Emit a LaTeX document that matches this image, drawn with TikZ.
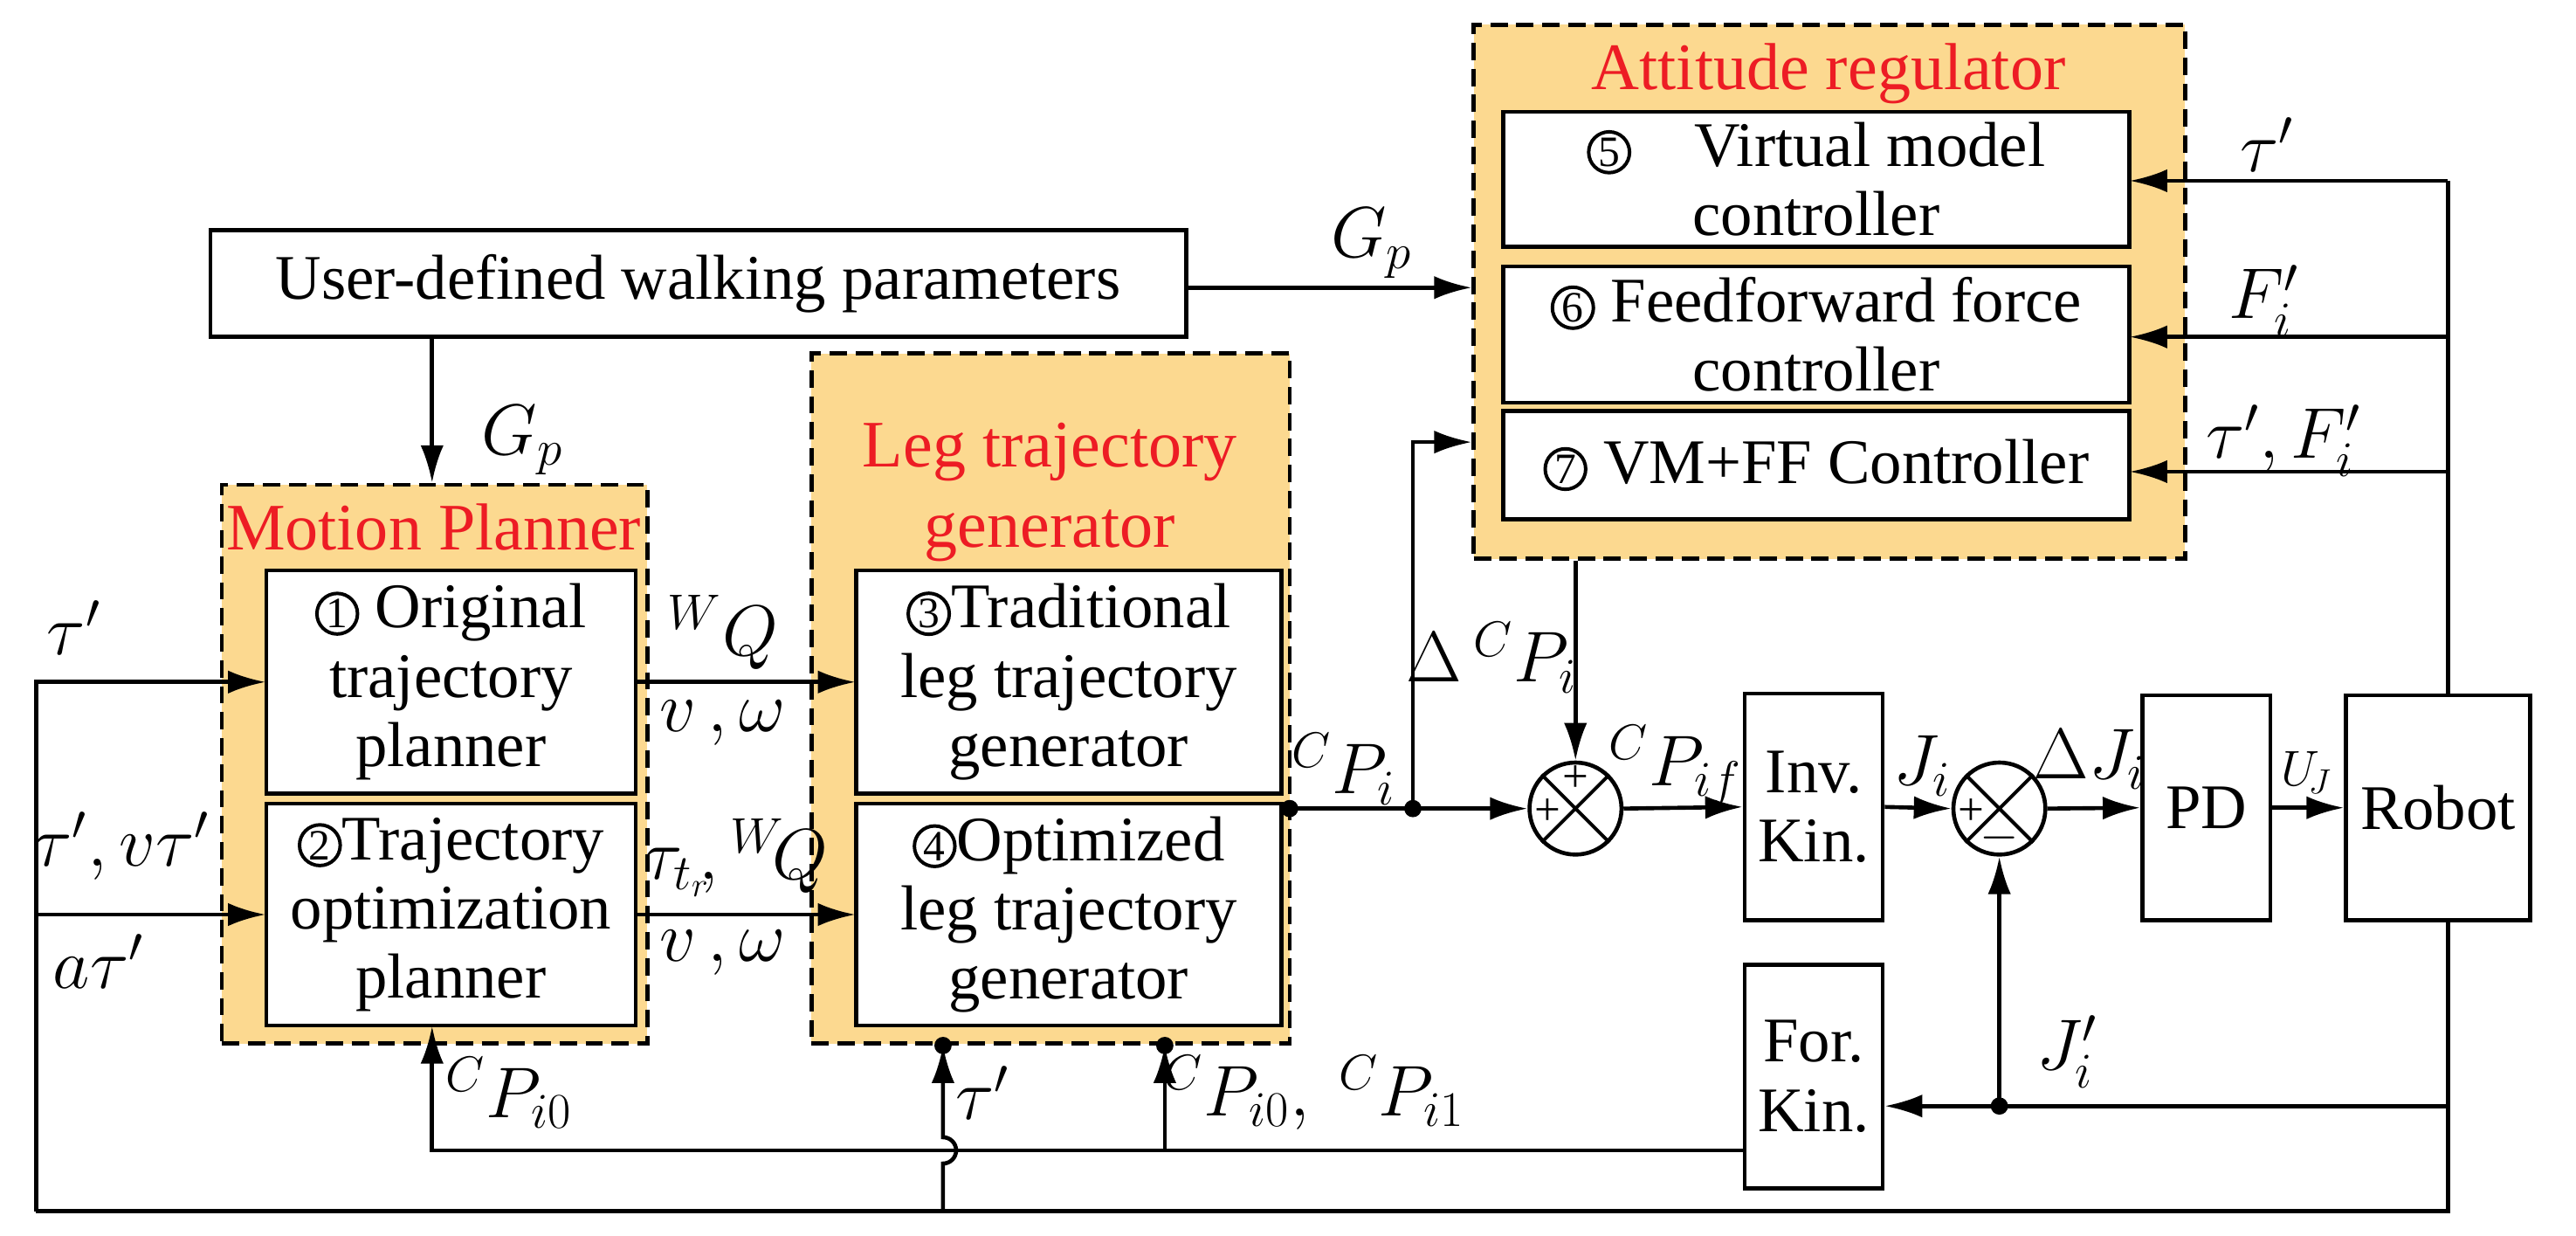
\documentclass[tikz,border=0pt]{standalone}
\usepackage{fontspec}
\setmainfont{Liberation Serif}
\setsansfont{Liberation Serif}
\usetikzlibrary{arrows.meta}
\definecolor{org}{RGB}{252,217,144}
\definecolor{ttl}{RGB}{237,28,36}
\newcommand\cnum[1]{\tikz[baseline=(c.base)]\node[circle,draw,solid,fill=none,minimum width=0pt,minimum height=0pt,minimum size=0pt,line width=1.2pt,inner sep=0.6pt,font=\rmfamily\fontsize{15}{15}\selectfont](c){#1};}
\begin{document}
\rmfamily
\begin{tikzpicture}[x=0.02cm,y=-0.02cm,line width=1.4pt,
 >={Latex[length=13pt,width=8pt]},
 every node/.style={font=\rmfamily\fontsize{22}{24}\selectfont},
 grp/.style={draw,dash pattern=on 6pt off 3pt,fill=org,line width=1.4pt},
 box/.style={draw,fill=white,align=center,inner sep=0pt},
 lab/.style={font=\fontsize{24}{26}\selectfont},
 ttl/.style={text=ttl,font=\rmfamily\fontsize{23}{25}\selectfont,align=center},
 dot/.style={circle,fill,inner sep=0pt,minimum size=6pt}]
\useasboundingbox (0,0) rectangle (1568,752);
% groups
\node[grp,minimum width=5.18cm,minimum height=6.8cm] (mp) at (264.5,465) {};
\node[grp,minimum width=5.82cm,minimum height=8.4cm] (lg) at (639.5,425) {};
\node[grp,minimum width=8.66cm,minimum height=6.5cm] (ar) at (1113.5,177.5) {};
\node[ttl] at (264,321) {Motion Planner};
\node[ttl] at (639,275) {Leg trajectory};
\node[ttl] at (639,326) {generator};
\node[ttl] at (1113,45) {Attitude regulator};
% boxes
\node[box,minimum width=11.88cm,minimum height=1.3cm] (ud) at (425,172.5) {User-defined walking parameters};
\node[box,minimum width=4.5cm,minimum height=2.72cm] (b1) at (274.5,415) {\cnum{1} Original\\trajectory\\planner};
\node[box,minimum width=4.5cm,minimum height=2.7cm] (b2) at (274.5,556.5) {\cnum{2}Trajectory\\optimization\\planner};
\node[box,minimum width=5.18cm,minimum height=2.72cm] (b3) at (650.5,415) {\cnum{3}Traditional\\leg trajectory\\generator};
\node[box,minimum width=5.18cm,minimum height=2.7cm] (b4) at (650.5,556.5) {\cnum{4}Optimized\\leg trajectory\\generator};
\node[box,minimum width=7.62cm,minimum height=1.64cm] (b5) at (1105.5,109) {\cnum{5}\quad Virtual model\\controller};
\node[box,minimum width=7.62cm,minimum height=1.66cm] (b6) at (1105.5,203.5) {\cnum{6} Feedforward force\\controller};
\node[box,minimum width=7.62cm,minimum height=1.32cm] (b7) at (1105.5,283) {\cnum{7} VM+FF Controller};
\node[box,minimum width=1.68cm,minimum height=2.76cm] (inv) at (1104,491) {Inv.\\Kin.};
\node[box,minimum width=1.68cm,minimum height=2.72cm] (fk) at (1104,655) {For.\\Kin.};
\node[box,minimum width=1.56cm,minimum height=2.74cm] (pd) at (1343,491.5) {PD};
\node[box,minimum width=2.24cm,minimum height=2.74cm] (rb) at (1484,491.5) {Robot};
\node[draw,circle,minimum size=1.12cm,inner sep=0pt] (s1) at (959,492) {};
\node[draw,circle,minimum size=1.12cm,inner sep=0pt] (s2) at (1217,492) {};
\draw[line width=1.2pt] (s1.north west)--(s1.south east) (s1.north east)--(s1.south west);
\draw[line width=1.2pt] (s2.north west)--(s2.south east) (s2.north east)--(s2.south west);
\node[font=\fontsize{16}{16}\selectfont] at (959,474) {+};
\node[font=\fontsize{16}{16}\selectfont] at (942,494) {+};
\node[font=\fontsize{16}{16}\selectfont] at (1200,494) {+};
\node[font=\fontsize{16}{16}\selectfont] at (1217,510) {$-$};
% coordinates
\coordinate (lo) at (785,492);
\coordinate (br) at (860,492);
\coordinate (rv) at (1490,110);
\coordinate (bl) at (22,737);
\coordinate (br2) at (1490,737);
\coordinate (jp) at (1217,673);
% connectors
\draw[->] (ud.east |- 0,175) -- (ar.west |- 0,175);
\node[lab] at (835,148) {$G_p$};
\draw[->] (ud.south -| 263,0) -- (mp.north -| 263,0);
\node[lab] at (318,268) {$G_p$};
\draw[->] (b1.east) -- (b3.west);
\draw[->] (b2.east) -- (b4.west);
\node[lab] at (440,385) {${}^{W}Q$};
\node[lab] at (440,440) {$v\,,\omega$};
\node[lab] at (448,522) {$\tau_{t_r}\!,{}^{W}\!Q$};
\node[lab] at (440,580) {$v\,,\omega$};
\draw[->] (bl) -- (22,415) -- (b1.west);
\draw[->] (22,556.5) -- (b2.west);
\node[lab] at (45,382) {$\tau'$};
\node[lab] at (74,515) {$\tau',v\tau'$};
\node[lab] at (60,585) {$a\tau'$};
\draw (bl) -- (br2) -- (rb.south -| br2);
\draw (rb.north -| rv) -- (rv);
\draw[->] (rv) -- (b5.east |- rv);
\draw[->] (1490,205) -- (b6.east |- 0,205);
\draw[->] (1490,287) -- (b7.east |- 0,287);
\node[lab] at (1380,88) {$\tau'$};
\node[lab] at (1378,183) {$F_i'$};
\node[lab] at (1390,268) {$\tau',F_i'$};
\draw[->] (lo) -- (s1.west);
\node[dot] at (lo) {};
\node[dot] at (br) {};
\draw[->] (br) -- (860,269) -- (ar.west |- 0,269);
\node[lab] at (818,468) {${}^{C}P_i$};
\node[lab] at (908,400) {$\Delta\,{}^{C}P_i$};
\draw[->] (ar.south -| s1) -- (s1.north);
\draw[->] (s1.east) -- (inv.west);
\node[lab] at (1020,466) {${}^{C}P_{if}$};
\draw[->] (inv.east) -- (s2.west);
\node[lab] at (1170,466) {$J_i$};
\draw[->] (s2.east) -- (pd.west);
\node[lab] at (1272,462) {$\Delta J_i$};
\draw[->] (pd.east) -- (rb.west);
\node[font=\fontsize{18}{20}\selectfont] at (1404,470) {$U_{\!J}$};
\draw[->] (1490,673) -- (fk.east |- jp);
\draw[->] (jp) -- (s2.south);
\node[dot] at (jp) {};
\node[lab] at (1258,640) {$J_i'$};
\draw[->] (fk.west |- 0,700) -- (263,700) -- (b2.south -| 263,0);
\node[lab] at (310,665) {${}^{C}P_{i0}$};
\draw[->] (709,700) -- (lg.south -| 709,0);
\node[dot] at (lg.south -| 709,0) {};
\node[lab] at (800,665) {${}^{C}P_{i0},\ {}^{C}P_{i1}$};
\draw[->] (574,737) -- (574,708) arc[start angle=-90,end angle=90,radius=0.16cm] -- (lg.south -| 574,0);
\node[dot] at (lg.south -| 574,0) {};
\node[lab] at (598,665) {$\tau'$};
\end{tikzpicture}
\end{document}
